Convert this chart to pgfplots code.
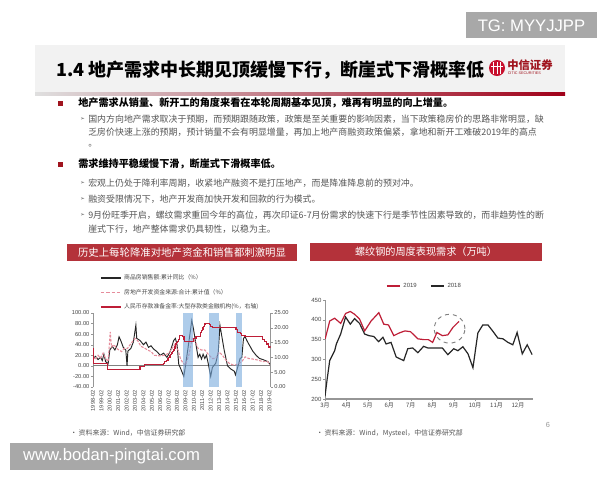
\documentclass[border=0pt]{standalone}
\usepackage{pgfplots}
\pgfplotsset{compat=1.18}
\usepackage{fontspec}
\setmainfont{Liberation Sans}
\newfontfamily\cjk{Noto Sans CJK SC}
\newfontfamily\dejavu{DejaVu Sans}
\definecolor{hdr}{RGB}{180,50,58}
\definecolor{dkred}{RGB}{190,30,55}
\definecolor{pinkc}{RGB}{230,140,155}
\definecolor{axgray}{RGB}{150,150,150}
\definecolor{txtgray}{RGB}{70,70,70}
\definecolor{subgray}{RGB}{85,85,85}
\definecolor{bulred}{RGB}{160,20,30}
\definecolor{boxgray}{RGB}{168,168,168}
\definecolor{bandc}{RGB}{120,170,220}
\definecolor{citic}{RGB}{200,16,46}
\begin{document}
\begin{tikzpicture}
\begin{scope}[x=0.75pt,y=-0.75pt]
\useasboundingbox (0,0) rectangle (600,480);
\fill[white] (0,0) rectangle (600,480);
% title band
\fill[gray!10] (35,45) rectangle (565,93);
\shade[left color=gray!25, middle color={rgb,255:red,215;green,170;blue,175}, right color={rgb,255:red,160;green,0;blue,25}] (35,92.5) rectangle (565,95);
\node[anchor=west, inner sep=0, font=\cjk\bfseries\fontsize{13.5}{15}\selectfont] at (56,70) {1.4 地产需求中长期见顶缓慢下行，断崖式下滑概率低};
% logo
\fill[citic] (497,68) circle (8);
\foreach \xx in {493.5,497,500.5} \draw[white, line width=0.6pt] (\xx,62) -- (\xx,74);
\draw[white, line width=0.6pt] (491,66) -- (503,66);
\node[anchor=west, inner sep=0, text=bulred, font=\cjk\bfseries\fontsize{8.5}{9}\selectfont] at (507,65) {中信证券};
\node[anchor=west, inner sep=0, text=bulred, font=\fontsize{2.8}{3}\selectfont] at (507.5,73.5) {CITIC SECURITIES};
% TG box
\fill[boxgray] (466,12) rectangle (597,38);
\node[white, font=\fontsize{12.5}{14}\selectfont] at (531.5,25.5) {TG: MYYJJPP};
% www box
\fill[boxgray] (10,443) rectangle (213,470);
\node[white, font=\fontsize{12.5}{14}\selectfont] at (111.5,456.5) {www.bodan-pingtai.com};
% bullets
\fill[bulred] (58,101) rectangle (62.5,105.5);
\node[anchor=west, inner sep=0, font=\cjk\bfseries\fontsize{7.6}{9}\selectfont] at (78,103) {地产需求从销量、新开工的角度来看在本轮周期基本见顶，难再有明显的向上增量。};
\node[anchor=west, inner sep=0, text=subgray, font=\dejavu\fontsize{4}{5}\selectfont] at (80,119.5) {➢};
\node[anchor=west, inner sep=0, text=subgray, font=\cjk\fontsize{6.7}{8}\selectfont] at (88,119) {国内方向地产需求取决于预期，而预期跟随政策，政策是至关重要的影响因素，当下政策稳房价的思路非常明显，缺};
\node[anchor=west, inner sep=0, text=subgray, font=\cjk\fontsize{6.7}{8}\selectfont] at (88,132.5) {乏房价快速上涨的预期，预计销量不会有明显增量，再加上地产商融资政策偏紧，拿地和新开工难破2019年的高点};
\node[anchor=west, inner sep=0, text=subgray, font=\cjk\fontsize{6.7}{8}\selectfont] at (88,146) {。};
\fill[bulred] (58,162) rectangle (62.5,166.5);
\node[anchor=west, inner sep=0, font=\cjk\bfseries\fontsize{7.6}{9}\selectfont] at (78,164) {需求维持平稳缓慢下滑，断崖式下滑概率低。};
\foreach \yy in {183.5,199.5,215.5} \node[anchor=west, inner sep=0, text=subgray, font=\dejavu\fontsize{4}{5}\selectfont] at (80,\yy) {➢};
\node[anchor=west, inner sep=0, text=subgray, font=\cjk\fontsize{6.7}{8}\selectfont] at (88,183) {宏观上仍处于降利率周期，收紧地产融资不是打压地产，而是降准降息前的预对冲。};
\node[anchor=west, inner sep=0, text=subgray, font=\cjk\fontsize{6.7}{8}\selectfont] at (88,199) {融资受限情况下，地产开发商加快开发和回款的行为模式。};
\node[anchor=west, inner sep=0, text=subgray, font=\cjk\fontsize{6.7}{8}\selectfont] at (88,215) {9月份旺季开启，螺纹需求重回今年的高位，再次印证6-7月份需求的快速下行是季节性因素导致的，而非趋势性的断};
\node[anchor=west, inner sep=0, text=subgray, font=\cjk\fontsize{6.7}{8}\selectfont] at (88,229) {崖式下行，地产整体需求仍具韧性，以稳为主。};
% header bars
\fill[hdr] (67,244) rectangle (297,261);
\node[white, inner sep=0, font=\cjk\fontsize{7.8}{9}\selectfont] at (182,252.5) {历史上每轮降准对地产资金和销售都刺激明显};
\fill[hdr] (310,243) rectangle (542,261);
\node[white, inner sep=0, font=\cjk\fontsize{7.6}{9}\selectfont] at (426,252) {螺纹钢的周度表现需求（万吨）};
% sources
\node[anchor=west, inner sep=0, text=subgray, font=\cjk\fontsize{5.2}{6}\selectfont] at (70,433) {•\ 资料来源：Wind，中信证券研究部};
\node[anchor=west, inner sep=0, text=subgray, font=\cjk\fontsize{5.2}{6}\selectfont] at (316,433) {•\ 资料来源：Wind，Mysteel，中信证券研究部};
\node[text=axgray, inner sep=0, font=\fontsize{5.5}{6}\selectfont] at (548,425) {6};
\end{scope}

% ===== left chart, left axis =====
\begin{axis}[
 at={(69.75pt,-290.25pt)}, anchor=south west, scale only axis,
 width=133.3pt, height=55.5pt,
 xmin=1998, xmax=2019.14, ymin=-40, ymax=100,
 axis y line*=left, axis x line*=bottom,
 x axis line style={draw=none},
 y axis line style={draw=axgray, line width=0.6pt, -},
 xtick={1998,...,2019},
 xticklabels={1998-02,1999-02,2000-02,2001-02,2002-02,2003-02,2004-02,2005-02,2006-02,2007-02,2008-02,2009-02,2010-02,2011-02,2012-02,2013-02,2014-02,2015-02,2016-02,2017-02,2018-02,2019-02},
 xticklabel style={rotate=90, anchor=east, font=\fontsize{4.2}{5}\selectfont, text=txtgray, inner sep=1pt},
 xtick style={draw=none},
 ytick={-40,-20,0,20,40,60,80,100},
 yticklabels={-40.00,-20.00,0.00,20.00,40.00,60.00,80.00,100.00},
 yticklabel style={font=\fontsize{4.3}{5}\selectfont, text=txtgray, inner sep=1pt},
 ytick style={draw=axgray},
 major tick length=1.5pt, tick align=outside,
 extra y ticks={0}, extra y tick labels={},
 extra y tick style={grid=major, major grid style={draw=gray, line width=0.8pt}, tick style={draw=none}},
]
\addplot[black!85, line width=0.7pt] coordinates {
(1998.0,14) (1998.3,18) (1998.6,12) (1998.9,16) (1999.1,10) (1999.3,22) (1999.5,8) (1999.8,4)
(2000.0,30) (2000.3,37) (2000.6,30) (2000.9,40) (2001.1,55) (2001.3,48) (2001.6,35) (2001.9,30)
(2002.05,0) (2002.15,28) (2002.5,33) (2002.8,45) (2003.1,77) (2003.2,52) (2003.6,48) (2004.0,40)
(2004.3,45) (2004.6,35) (2004.9,38) (2005.2,32) (2005.6,27) (2006.0,20) (2006.4,24) (2006.8,16)
(2007.2,28) (2007.6,48) (2007.8,52) (2008.0,40) (2008.2,3) (2008.5,-8) (2008.8,-20) (2009.0,0)
(2009.4,45) (2009.75,86) (2009.95,70) (2010.2,45) (2010.5,16) (2010.7,22) (2010.9,13) (2011.1,22)
(2011.3,14) (2011.5,20) (2011.7,5) (2012.0,-20) (2012.2,-3) (2012.6,5) (2012.9,26) (2013.1,77)
(2013.3,58) (2013.6,30) (2014.0,0) (2014.4,-6) (2014.8,-10) (2014.95,-17) (2015.2,-3) (2015.5,14)
(2015.7,16) (2015.9,52) (2016.1,55) (2016.3,48) (2016.5,42) (2017.0,28) (2017.4,20) (2017.8,14)
(2018.2,12) (2018.5,10) (2018.8,8) (2019.1,2)};
\addplot[pinkc, line width=0.8pt, dash pattern=on 2pt off 1pt] coordinates {
(1998.0,17) (1998.3,12) (1998.6,20) (1998.9,15) (1999.2,24) (1999.5,14) (1999.8,8) (2000.05,64)
(2000.2,36) (2000.5,40) (2000.8,33) (2001.1,30) (2001.4,27) (2001.7,33) (2002.1,33) (2002.5,42)
(2003.0,52) (2003.3,48) (2003.7,37) (2004.1,34) (2004.5,30) (2004.9,27) (2005.3,20) (2005.9,19)
(2006.5,20) (2007.0,24) (2007.4,33) (2007.8,42) (2008.1,30) (2008.4,14) (2008.7,5) (2009.0,2)
(2009.4,20) (2009.8,52) (2010.2,45) (2010.5,33) (2010.9,30) (2011.3,30) (2011.8,20) (2012.2,14)
(2012.6,14) (2013.0,26) (2013.4,20) (2013.8,11) (2014.2,5) (2014.6,2) (2015.0,2) (2015.4,5)
(2015.7,8) (2016.1,17) (2016.5,14) (2017.0,13) (2017.6,11) (2018.2,8) (2018.7,9) (2019.1,2)};
\addplot[draw=none, fill=bandc, fill opacity=0.6] coordinates {(2008.75,-40) (2008.75,100) (2009.94,100) (2009.94,-40)} -- cycle;
\addplot[draw=none, fill=bandc, fill opacity=0.6] coordinates {(2011.8,-40) (2011.8,100) (2013.0,100) (2013.0,-40)} -- cycle;
\addplot[draw=none, fill=bandc, fill opacity=0.6] coordinates {(2014.98,-40) (2014.98,100) (2015.77,100) (2015.77,-40)} -- cycle;
\end{axis}

% ===== left chart, right axis =====
\begin{axis}[
 at={(69.75pt,-290.25pt)}, anchor=south west, scale only axis,
 width=133.3pt, height=55.5pt,
 xmin=1998, xmax=2019.14, ymin=0, ymax=25,
 axis y line*=right, axis x line=none,
 y axis line style={draw=axgray, line width=0.6pt, -},
 ytick={0,5,10,15,20,25},
 yticklabels={0.00,5.00,10.00,15.00,20.00,25.00},
 yticklabel style={font=\fontsize{4.3}{5}\selectfont, text=txtgray, inner sep=1pt},
 ytick style={draw=axgray}, major tick length=1.5pt, tick align=outside,
 legend style={at={(0.04,1.56)}, anchor=north west, draw=none, fill=none,
   font=\cjk\fontsize{4.4}{5}\selectfont, text=txtgray, row sep=1.6pt, inner sep=0pt},
 legend cell align=left,
 legend image code/.code={\draw[#1] (0pt,0pt) -- (15pt,0pt);},
]
\addlegendimage{black!85, line width=0.9pt}
\addlegendimage{pinkc, line width=0.9pt, dash pattern=on 2.5pt off 1.5pt}
\addplot[dkred, line width=0.9pt, const plot] coordinates {
(1998.0,13) (1998.08,8) (1999.75,6) (2003.58,7) (2004.17,7.5) (2006.42,8) (2006.5,8.5) (2006.75,9)
(2006.92,9.5) (2007.0,10) (2007.17,10.5) (2007.25,11) (2007.33,11.5) (2007.5,12) (2007.58,12.5)
(2007.67,13) (2007.75,13.5) (2007.83,14.5) (2007.92,15) (2008.08,15.5) (2008.17,16) (2008.25,16.5)
(2008.33,17.5) (2008.67,17) (2008.83,16) (2008.9,15.5) (2009.92,16) (2010.0,16.5) (2010.25,17)
(2010.75,17.5) (2010.8,18) (2010.83,18.5) (2010.92,19) (2011.0,19.5) (2011.08,20) (2011.17,20.5)
(2011.25,21) (2011.33,21.5) (2011.83,21) (2012.0,20.5) (2012.25,20) (2015.0,19.5) (2015.17,18.5)
(2015.58,18) (2015.67,17.5) (2016.08,17) (2018.17,16) (2018.42,15.5) (2018.67,14.5) (2018.92,13.5)
(2019.14,13.5)};
\legend{商品房销售额:累计同比（\%）,房地产开发资金来源:合计:累计值（\%）,人民币存款准备金率:大型存款类金融机构(\%，右轴)}
\end{axis}

% ===== right chart =====
\begin{axis}[
 at={(243.75pt,-299.25pt)}, anchor=south west, scale only axis,
 width=156pt, height=74.25pt,
 xmin=3, xmax=12.7, ymin=200, ymax=450,
 axis x line*=bottom, axis y line*=left,
 x axis line style={draw=axgray, line width=1.2pt, -},
 y axis line style={draw=axgray, line width=0.6pt, -},
 xtick={3,4,5,6,7,8,9,10,11,12},
 xticklabels={3月,4月,5月,6月,7月,8月,9月,10月,11月,12月},
 xticklabel style={font=\cjk\fontsize{4.5}{5}\selectfont, text=txtgray, inner sep=1pt},
 ytick={200,250,300,350,400,450},
 yticklabels={200,250,300,350,400,450},
 yticklabel style={font=\fontsize{4.5}{5}\selectfont, text=txtgray, inner sep=1pt},
 tick style={draw=axgray}, major tick length=1.5pt, tick align=outside,
 legend style={at={(0.48,1.14)}, anchor=center, draw=none, fill=none,
   font=\fontsize{4.5}{5}\selectfont, text=txtgray, inner sep=0pt,
   /tikz/every even column/.append style={column sep=8pt}},
 legend columns=2,
 legend image code/.code={\draw[#1] (0pt,0pt) -- (10pt,0pt);},
]
\addlegendimage{dkred, line width=1pt}
\addlegendimage{black!85, line width=1pt}
\addplot[black!85, line width=0.9pt, forget plot] coordinates {
(3.0,207) (3.1,250) (3.22,297) (3.45,322) (3.53,339) (3.73,364) (3.96,407) (4.18,389) (4.38,403)
(4.61,391) (4.85,364) (5.05,360) (5.27,358) (5.50,345) (5.70,356) (5.85,339) (6.08,343) (6.32,306)
(6.67,297) (6.86,327) (7.09,329) (7.33,317) (7.60,333) (7.79,329) (8.02,329) (8.20,329) (8.47,329)
(8.73,312) (9.00,327) (9.20,322) (9.43,332) (9.67,314) (9.90,279) (10.13,367) (10.36,387) (10.60,387)
(10.83,371) (11.06,354) (11.30,352) (11.53,343) (11.76,337) (11.96,368) (12.20,314) (12.43,337) (12.66,312)};
\addplot[dkred, line width=0.9pt, forget plot] coordinates {
(3.01,352) (3.22,397) (3.45,404) (3.73,391) (3.96,416) (4.18,421) (4.38,414) (4.61,402) (4.85,372)
(5.15,397) (5.51,418) (5.74,389) (5.96,387) (6.21,360) (6.47,367) (6.73,372) (6.99,370) (7.33,352)
(7.60,350) (7.82,350) (8.02,343) (8.22,368) (8.47,360) (8.73,362) (8.97,381) (9.25,396)};
\draw[gray, dashed, line width=0.7pt] (axis cs:8.81,377.5) ellipse [x radius=11.5pt, y radius=10.8pt];
\legend{2019,2018}
\end{axis}
\end{tikzpicture}
\end{document}
